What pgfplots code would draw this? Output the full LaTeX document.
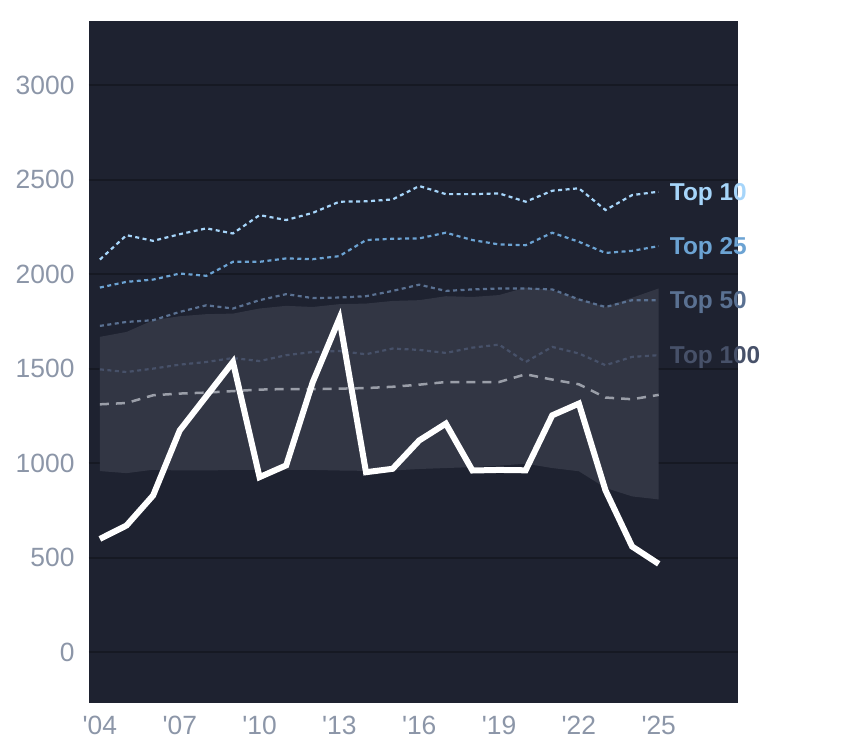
\documentclass[border=0pt]{standalone}
\usepackage{fontspec}
\setmainfont{Liberation Sans}
\usepackage{pgfplots}
\usepackage{pgfplotstable}
\pgfplotsset{compat=1.18}
\definecolor{bgcol}{HTML}{1E2230}
\definecolor{bandcol}{HTML}{323644}
\definecolor{gridcol}{HTML}{161923}
\definecolor{tickcol}{HTML}{8C96A8}
\definecolor{cten}{HTML}{A6D5FA}
\definecolor{ctwf}{HTML}{6CA3D3}
\definecolor{cfif}{HTML}{5A7192}
\definecolor{chun}{HTML}{475169}
\definecolor{cgray}{HTML}{9A9EA8}
\pgfplotstableread{
year white top10 top25 top50 top100 gray
2004 600 2078 1930 1727 1497 1312
2005 671 2207 1960 1748 1483 1319
2006 830 2177 1972 1757 1501 1360
2007 1174 2212 2004 1801 1522 1369
2008 1355 2243 1992 1836 1536 1374
2009 1536 2216 2066 1819 1557 1382
2010 927 2313 2066 1863 1541 1390
2011 989 2287 2084 1895 1572 1393
2012 1430 2325 2080 1874 1589 1392
2013 1766 2384 2096 1877 1594 1395
2014 953 2386 2181 1884 1577 1398
2015 971 2396 2188 1912 1607 1405
2016 1121 2467 2190 1945 1600 1416
2017 1210 2424 2220 1912 1584 1430
2018 962 2424 2181 1920 1612 1430
2019 965 2428 2158 1925 1628 1430
2020 963 2384 2154 1925 1536 1471
2021 1254 2442 2220 1920 1616 1443
2022 1316 2455 2172 1867 1581 1418
2023 857 2340 2113 1827 1519 1348
2024 560 2419 2124 1863 1563 1339
2025 468 2437 2149 1863 1572 1362
}\data
\pgfplotstableread{
x y
2004 1669
2005 1695
2006 1757
2007 1778
2008 1789
2009 1792
2010 1819
2011 1833
2012 1827
2013 1842
2014 1845
2015 1859
2016 1863
2017 1884
2018 1880
2019 1890
2020 1930
2021 1916
2022 1870
2023 1827
2024 1876
2025 1925
2025 809
2024 825
2023 870
2022 958
2021 975
2020 998
2019 988
2018 980
2017 975
2016 970
2015 962
2014 960
2013 962
2012 965
2011 966
2010 965
2009 965
2008 962
2007 962
2006 966
2005 948
2004 959
}\band
\begin{document}
\begin{tikzpicture}
\begin{axis}[
  width=649bp, height=682bp, scale only axis,
  xmin=2003.59, xmax=2027.98, ymin=-268, ymax=3340,
  axis line style={draw=none},
  axis background/.style={fill=bgcol},
  ytick={0,500,...,3000}, xtick={2004,2007,...,2025},
  xticklabels={\textquotesingle04,\textquotesingle07,\textquotesingle10,\textquotesingle13,\textquotesingle16,\textquotesingle19,\textquotesingle22,\textquotesingle25},
  major tick length=0pt,
  ymajorgrids, grid style={gridcol, line width=2bp},
  tick label style={font=\fontsize{26.5}{30}\selectfont, text=tickcol},
  /pgf/number format/assume math mode=true,
  /pgf/number format/1000 sep={},
  yticklabel style={xshift=-11bp},
  xticklabel style={yshift=-10bp},
  clip=false,
]
\addplot[fill=bandcol, draw=none] table[x=x,y=y] {\band} -- cycle;
\addplot[cgray, line width=2.5bp, dash pattern=on 9bp off 7bp] table[x=year,y=gray] {\data};
\addplot[chun, line width=2.2bp, dash pattern=on 4bp off 3.5bp] table[x=year,y=top100] {\data};
\addplot[cfif, line width=2.2bp, dash pattern=on 4bp off 3.5bp] table[x=year,y=top50] {\data};
\addplot[ctwf, line width=2.2bp, dash pattern=on 4bp off 3.5bp] table[x=year,y=top25] {\data};
\addplot[cten, line width=2.2bp, dash pattern=on 4bp off 3.5bp] table[x=year,y=top10] {\data};
\addplot[white, line width=6bp] table[x=year,y=white] {\data};
\node[anchor=base west, inner sep=0pt, xshift=11bp, yshift=-8.8bp, text=cten, font=\bfseries\fontsize{24.5}{28}\selectfont] at (axis cs:2025,2437) {Top 10};
\node[anchor=base west, inner sep=0pt, xshift=11bp, yshift=-8.8bp, text=ctwf, font=\bfseries\fontsize{24.5}{28}\selectfont] at (axis cs:2025,2149) {Top 25};
\node[anchor=base west, inner sep=0pt, xshift=11bp, yshift=-8.8bp, text=cfif, font=\bfseries\fontsize{24.5}{28}\selectfont] at (axis cs:2025,1863) {Top 50};
\node[anchor=base west, inner sep=0pt, xshift=11bp, yshift=-8.8bp, text=chun, font=\bfseries\fontsize{24.5}{28}\selectfont] at (axis cs:2025,1572) {Top 100};
\end{axis}
\path ([xshift=-89bp,yshift=-45bp]current axis.south west) rectangle ([xshift=106bp,yshift=21bp]current axis.north east);
\end{tikzpicture}
\end{document}
